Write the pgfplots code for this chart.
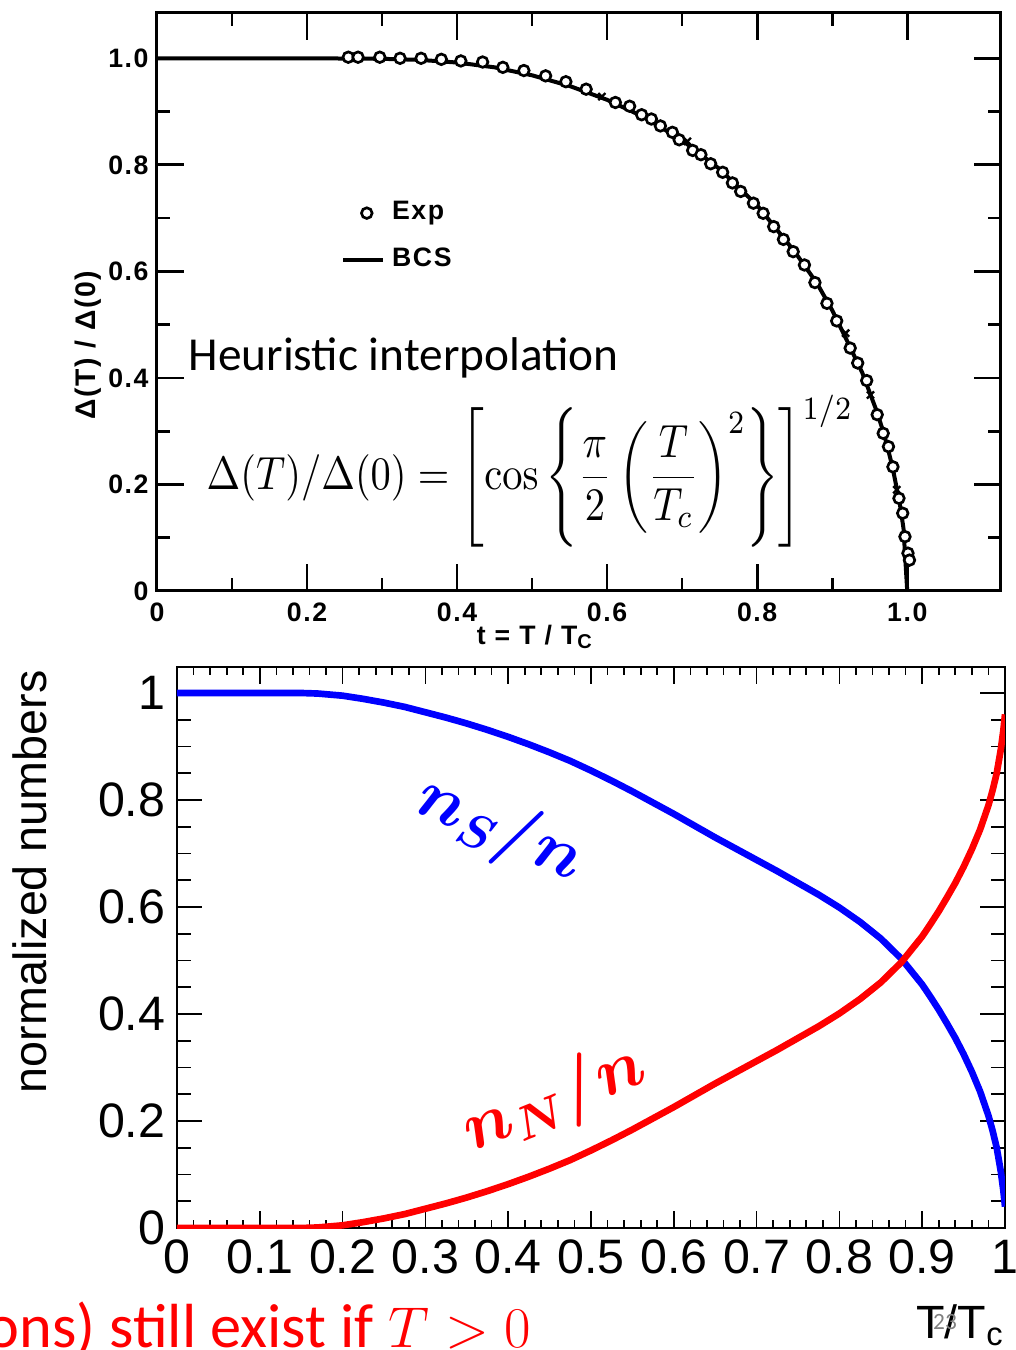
\documentclass[border=0pt]{standalone}
\usepackage{pgfplots}
\pgfplotsset{compat=1.18}
\usepackage[no-math]{fontspec}
\usepackage{bm}
\usepackage{graphicx}
\setmainfont{Liberation Sans}
\newfontfamily\calibri{Carlito}
\newfontfamily\oldsans[LetterSpace=6]{Liberation Sans}
\pgfplotsset{
  bcsleg/.style={legend image code/.code={\draw[##1] (0pt,0pt) -- (12pt,0pt);}},
  expleg/.style={legend image code/.code={\draw[mark repeat=2,mark phase=2,##1] plot coordinates {(0pt,0pt)(7pt,0pt)(14pt,0pt)};}},
}
\begin{document}
\begin{tikzpicture}[x=0.3pt,y=0.3pt]
\useasboundingbox (0,0) rectangle (1015,1350);
\clip (0,0) rectangle (1015,1350);

% ---------------- top axis ----------------
\begin{axis}[
  at={(47.1pt,227.7pt)}, anchor=south west,
  scale only axis, width=253.2pt, height=173.4pt,
  xmin=0, xmax=1.125, ymin=0, ymax=1.085,
  axis line style={line width=0.9pt},
  xtick={0,0.2,0.4,0.6,0.8,1.0},
  xticklabels={0,0.2,0.4,0.6,0.8,1.0},
  minor xtick={0.1,0.3,0.5,0.7,0.9},
  ytick={0,0.2,0.4,0.6,0.8,1.0},
  yticklabels={0,0.2,0.4,0.6,0.8,1.0},
  minor ytick={0.1,0.3,0.5,0.7,0.9},
  tick align=inside,
  major tick length=8pt, minor tick length=3.8pt,
  every tick/.style={black, line width=0.8pt},
  tick label style={font=\oldsans\fontsize{8}{9}\selectfont\bfseries},
  yticklabel style={xshift=1pt},
  every axis x label/.style={at={(axis description cs:0.448,-0.0796)}, anchor=center, font=\oldsans\fontsize{8}{9}\selectfont\bfseries},
  every axis y label/.style={at={(axis description cs:-0.0818,0.4256)}, rotate=90, anchor=center, font=\oldsans\fontsize{8.5}{9}\selectfont\bfseries},
  xlabel={t = T / T\textsubscript{C}},
  ylabel={Δ(T) / Δ(0)},
  reverse legend,
  legend style={at={(axis cs:0.245,0.745)}, anchor=north west, draw=none, fill=none,
    font=\oldsans\fontsize{8}{9}\selectfont\bfseries, row sep=3pt, inner sep=0pt},
  legend cell align=left,
]
\addplot[black, line width=1.2pt, bcsleg] coordinates {
(0,1.0)(0.1,1.0)(0.2,1.0)(0.3,0.999)(0.35,0.997)(0.4,0.992)(0.45,0.983)(0.5,0.968)
(0.55,0.948)(0.6,0.922)(0.65,0.889)(0.7,0.846)(0.75,0.792)(0.8,0.724)(0.85,0.637)
(0.88,0.577)(0.9,0.527)(0.92,0.469)(0.94,0.410)(0.96,0.335)(0.97,0.290)(0.98,0.235)
(0.99,0.165)(0.995,0.118)(1.0,0.0)};
\addlegendentry{BCS}
\addplot[only marks, mark=*, mark size=1.6pt,
  mark options={fill=white, draw=black, line width=0.8pt}, expleg] coordinates {
(0.255,1.002)(0.268,1.002)(0.297,1.002)(0.324,1.0)(0.352,1.0)(0.379,0.998)(0.405,0.995)
(0.434,0.993)(0.461,0.983)(0.489,0.977)(0.518,0.967)(0.545,0.956)(0.572,0.942)(0.611,0.917)
(0.630,0.910)(0.646,0.894)(0.659,0.886)(0.671,0.873)(0.687,0.861)(0.696,0.847)(0.714,0.827)
(0.725,0.819)(0.738,0.802)(0.754,0.786)(0.767,0.766)(0.778,0.750)(0.795,0.728)(0.808,0.709)
(0.822,0.684)(0.835,0.660)(0.848,0.637)(0.863,0.612)(0.877,0.579)(0.893,0.540)(0.906,0.507)
(0.924,0.456)(0.934,0.428)(0.946,0.395)(0.960,0.331)(0.968,0.296)(0.975,0.271)(0.981,0.233)
(0.989,0.174)(0.994,0.146)(0.997,0.102)(1.001,0.071)(1.003,0.058)};
\addlegendentry{Exp}
\addplot[only marks, mark=x, mark size=1.5pt, black, line width=0.7pt, forget plot] coordinates {
(0.593,0.928)(0.707,0.844)(0.918,0.484)(0.951,0.368)(0.986,0.19)};
\end{axis}

% ---------------- bottom axis ----------------
\begin{axis}[
  at={(53.1pt,36.6pt)}, anchor=south west,
  scale only axis, width=248.4pt, height=168.3pt,
  xmin=0, xmax=1, ymin=0, ymax=1.0486,
  axis line style={line width=0.6pt},
  xtick={0,0.1,0.2,0.3,0.4,0.5,0.6,0.7,0.8,0.9,1},
  xticklabels={0,0.1,0.2,0.3,0.4,0.5,0.6,0.7,0.8,0.9,1},
  minor x tick num=4,
  ytick={0,0.2,0.4,0.6,0.8,1},
  yticklabels={0,0.2,0.4,0.6,0.8,1},
  minor y tick num=3,
  tick align=inside,
  xtick style={/pgfplots/major tick length=5pt, /pgfplots/minor tick length=2.5pt},
  ytick style={/pgfplots/major tick length=7.5pt, /pgfplots/minor tick length=4.2pt},
  every tick/.append style={black, line width=0.5pt},
  tick label style={font=\fontsize{14.5}{16}\selectfont},
  every axis x label/.style={at={(axis description cs:0.946,-0.173)}, anchor=center, font=\fontsize{14}{16}\selectfont},
  every axis y label/.style={at={(axis description cs:-0.1775,0.617)}, rotate=90, anchor=center, font=\fontsize{14}{16}\selectfont},
  xlabel={T/T\textsubscript{c}},
  ylabel={normalized numbers},
]
\addplot[blue, line width=2pt] coordinates {
(0,1)(0.05,1)(0.1,1)(0.15,1)(0.17,0.999)(0.2,0.995)(0.225,0.989)(0.25,0.982)(0.275,0.974)
(0.3,0.964)(0.325,0.954)(0.35,0.943)(0.375,0.931)(0.4,0.918)(0.425,0.904)(0.45,0.889)
(0.475,0.873)(0.5,0.855)(0.525,0.836)(0.55,0.816)(0.575,0.795)(0.6,0.774)(0.625,0.752)
(0.65,0.730)(0.675,0.709)(0.7,0.688)(0.725,0.667)(0.75,0.645)(0.775,0.623)(0.8,0.599)
(0.825,0.572)(0.85,0.541)(0.875,0.503)(0.9,0.455)(0.91,0.432)(0.92,0.408)(0.93,0.382)
(0.94,0.355)(0.95,0.325)(0.96,0.292)(0.97,0.255)(0.98,0.210)(0.985,0.182)(0.99,0.150)
(0.995,0.105)(0.998,0.07)(1.0,0.04)};
\addplot[red, line width=2pt] coordinates {
(0,0)(0.05,0)(0.1,0)(0.15,0)(0.17,0.001)(0.2,0.005)(0.225,0.011)(0.25,0.018)(0.275,0.026)
(0.3,0.036)(0.325,0.046)(0.35,0.057)(0.375,0.069)(0.4,0.082)(0.425,0.096)(0.45,0.111)
(0.475,0.127)(0.5,0.145)(0.525,0.164)(0.55,0.184)(0.575,0.205)(0.6,0.226)(0.625,0.248)
(0.65,0.270)(0.675,0.291)(0.7,0.312)(0.725,0.333)(0.75,0.355)(0.775,0.377)(0.8,0.401)
(0.825,0.428)(0.85,0.459)(0.875,0.497)(0.9,0.545)(0.91,0.568)(0.92,0.592)(0.93,0.618)
(0.94,0.645)(0.95,0.675)(0.96,0.708)(0.97,0.745)(0.98,0.790)(0.985,0.818)(0.99,0.850)
(0.995,0.895)(0.998,0.93)(1.0,0.96)};
\end{axis}

% ---------------- overlay texts ----------------
\node[anchor=base west, inner sep=0] at (188,979) {\calibri\fontsize{14.2}{16}\selectfont Heuristic interpolation};
\node[anchor=west, inner sep=0] at (206,879) {\scalebox{1}[1.15]{\resizebox{194pt}{!}{$\displaystyle\Delta(T)/\Delta(0)=\left[\cos\left\{\frac{\pi}{2}\left(\frac{T}{T_c}\right)^{2}\right\}\right]^{1/2}$}}};
\node[blue, rotate=-24] at (500,520) {\fontsize{22}{24}\selectfont$\bm{n_S/n}$};
\node[red, rotate=22] at (555,250) {\fontsize{22}{24}\selectfont$\bm{n_N/n}$};
\node[red, anchor=base west, inner sep=0] at (-14,2) {\calibri\fontsize{18.7}{20}\selectfont ons) still exist if $T>0$};
\node[gray, inner sep=0] at (945,28) {\calibri\fontsize{7}{8}\selectfont 23};
\end{tikzpicture}
\end{document}
